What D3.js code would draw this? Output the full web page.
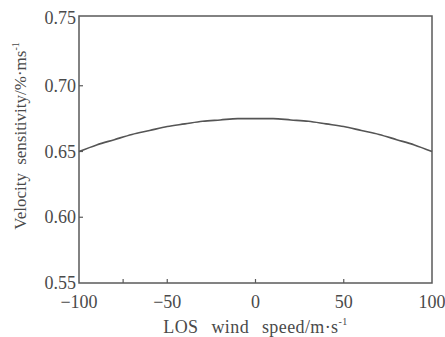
<!DOCTYPE html>
<html>
<head>
<meta charset="utf-8">
<script src="https://cdn.jsdelivr.net/npm/d3@7"></script>
<style>
  body { margin: 0; background: #fff; }
  text { font-family: "Liberation Serif", "DejaVu Serif", serif; fill: #4a4a4a; }
</style>
</head>
<body>
<div id="chart"></div>
<script>
// LOS wind speed (m/s) and velocity sensitivity (%/ms^-1)
var speeds = [-100, -90, -80, -70, -60, -50, -40, -30, -20, -10, 0, 10, 20, 30, 40, 50, 60, 70, 80, 90, 100];
var sensitivity = [0.650, 0.655, 0.659, 0.663, 0.666, 0.669, 0.671, 0.673, 0.674, 0.675, 0.675, 0.675, 0.674, 0.673, 0.671, 0.669, 0.666, 0.663, 0.659, 0.655, 0.650];
var xTickLabels = [-100, -50, 0, 50, 100];
var xMinorTicks = [-75, -50, 0, 50];
var yTickLabels = [0.55, 0.60, 0.65, 0.70, 0.75];
var yMinorTicks = [0.60, 0.65, 0.70];

var svgWidth = 445, svgHeight = 337;
var margin = {top: 16, right: 13, bottom: 54, left: 79};
var width = svgWidth - margin.left - margin.right;
var height = svgHeight - margin.top - margin.bottom;

var svg = d3.select("#chart").append("svg")
  .attr("width", svgWidth)
  .attr("height", svgHeight);

var g = svg.append("g")
  .attr("transform", "translate(" + margin.left + "," + margin.top + ")");

var x = d3.scaleLinear().domain([-100, 100]).range([0, width]);
var y = d3.scaleLinear().domain([0.55, 0.75]).range([height, 4]);

// frame
g.append("rect")
  .attr("x", 0).attr("y", 0)
  .attr("width", width).attr("height", height)
  .attr("fill", "none")
  .attr("stroke", "#5a5a5a")
  .attr("stroke-width", 1.5);

// inner tick marks
g.selectAll(".xt").data(xMinorTicks).enter().append("line")
  .attr("x1", function(d) { return x(d); })
  .attr("x2", function(d) { return x(d); })
  .attr("y1", height).attr("y2", height - 4)
  .attr("stroke", "#5a5a5a").attr("stroke-width", 1.2);

g.selectAll(".yt").data(yMinorTicks).enter().append("line")
  .attr("x1", 0).attr("x2", 4)
  .attr("y1", function(d) { return y(d); })
  .attr("y2", function(d) { return y(d); })
  .attr("stroke", "#5a5a5a").attr("stroke-width", 1.2);

// tick labels
g.selectAll(".xl").data(xTickLabels).enter().append("text")
  .attr("x", function(d) { return x(d); })
  .attr("y", height + 25)
  .attr("text-anchor", "middle")
  .attr("font-size", "18px")
  .text(function(d) { return d < 0 ? "\u2212" + Math.abs(d) : d; });

g.selectAll(".yl").data(yTickLabels).enter().append("text")
  .attr("x", -3)
  .attr("y", function(d) { return d === 0.75 ? 8 : y(d) + 6; })
  .attr("text-anchor", "end")
  .attr("font-size", "18px")
  .text(function(d) { return d.toFixed(2); });

// curve
var line = d3.line()
  .x(function(d, i) { return x(speeds[i]); })
  .y(function(d) { return y(d); })
  .curve(d3.curveMonotoneX);

g.append("path")
  .datum(sensitivity)
  .attr("d", line)
  .attr("fill", "none")
  .attr("stroke", "#555")
  .attr("stroke-width", 1.6);

// axis titles
var xt = svg.append("text")
  .attr("x", margin.left + width / 2)
  .attr("y", 333)
  .attr("text-anchor", "middle")
  .attr("font-size", "18px")
  .attr("letter-spacing", "0.4px")
  .attr("word-spacing", "8px");
xt.append("tspan").text("LOS wind speed/m\u00b7s");
xt.append("tspan").attr("dy", -8).attr("font-size", "10px").text("-1");

var yt = svg.append("text")
  .attr("transform", "translate(26,136) rotate(-90)")
  .attr("text-anchor", "middle")
  .attr("font-size", "17px")
  .attr("word-spacing", "4px");
yt.append("tspan").text("Velocity sensitivity/%\u00b7ms");
yt.append("tspan").attr("dy", -7).attr("font-size", "10px").text("-1");
</script>
</body>
</html>
